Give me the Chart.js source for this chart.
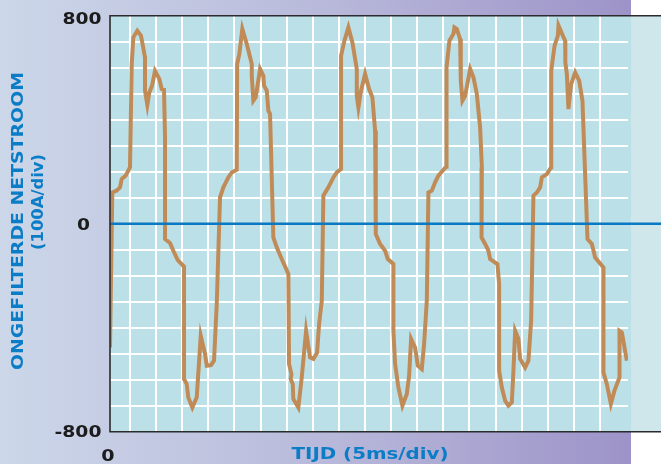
<!DOCTYPE html>
<html>
<head>
<meta charset="utf-8">
<script src="https://cdn.jsdelivr.net/npm/chart.js"></script>
<style>
  html, body { margin: 0; padding: 0; background: #fff; }
</style>
</head>
<body>
<canvas id="scope" width="661" height="464"></canvas>
<script>
// waveform: time in ms, current in A
const timeMs = [0, 0.44, 1.28, 1.92, 2.24, 3.01, 3.83, 4.16, 4.46, 5.23, 5.94, 6.70, 6.70, 7.15, 7.53, 8.05, 8.62, 9.44, 9.90, 10.34, 10.54, 10.54, 11.49, 12.13, 12.97, 14.18, 14.18, 14.69, 15.0, 15.77, 16.61, 17.38, 18.20, 18.53, 19.35, 19.92, 20.44,
  21.07, 21.71, 22.66, 23.31, 24.27, 24.35, 24.77, 25.34, 26.19, 27.15, 27.15, 27.45, 27.91, 28.74, 29.37, 29.50, 30.02, 30.33, 30.65, 31.28, 31.93, 32.89, 34.16, 34.29, 34.75, 34.6, 35.0, 35.11, 36.07, 36.72, 37.55, 38.31, 38.95, 39.66, 40.04, 40.56,
  40.86, 41.82, 42.78, 43.43, 44.25, 44.25, 44.89, 45.65, 46.42, 47.26, 47.26, 47.57, 48.08, 48.85, 49.62, 50.25, 50.77, 50.90, 51.72, 52.68, 53.20, 54.27, 54.27, 54.60, 55.23, 56.0, 56.84, 57.28, 57.66, 58.43, 58.95, 59.71, 60.15, 60.67,
  60.98, 61.63, 62.26, 62.89, 64.37, 64.4, 64.50, 65.0, 65.77, 65.96, 66.42, 67.05, 67.18, 67.49, 68.01, 68.97, 69.60, 70.25, 70.88, 71.21, 71.15, 71.84, 72.47, 72.80, 74.20, 74.52, 74.52, 75.04, 75.67, 76.30, 76.95, 77.26, 77.59, 78.22, 78.54, 79.50, 80.13, 80.65,
  81.09, 81.74, 82.38, 82.70, 83.66, 84.48, 84.5, 85.14, 85.77, 85.89, 86.73, 87.16, 87.2, 87.49, 87.80, 88.31, 89.08, 89.85, 90.48, 91.44, 92.28, 92.91, 94.50, 94.50, 95.15, 95.92, 96.61, 97.57, 97.57, 98.02, 98.98];
const currentA = [-476, 120, 127, 140, 172, 185, 217, 614, 717, 742, 723, 640, 512, 457, 505, 531, 588, 557, 518, 515, 332, -59, -74, -104, -140, -165, -597, -617, -668, -707, -668, -431, -501, -546, -544, -527, -309,
  101, 140, 178, 197, 207, 614, 653, 749, 691, 614, 569, 473, 486, 595, 569, 531, 512, 435, 422, -53, -91, -136, -193, -540, -578, -597, -617, -674, -707, -591, -412, -514, -520, -496, -386, -296,
  108, 140, 178, 197, 210, 646, 704, 755, 697, 595, 492, 447, 512, 576, 518, 486, 358, -40, -78, -104, -136, -155, -412, -540, -630, -700, -655, -585, -443, -476, -546, -559, -463, -296,
  120, 127, 159, 185, 219, 588, 601, 704, 730, 755, 749, 710, 550, 473, 492, 595, 563, 499, 370, 217, -53, -78, -104, -136, -155, -232, -565, -630, -681, -700, -687, -565, -412, -443, -520, -553, -527, -373,
  108, 120, 140, 178, 191, 217, 588, 685, 723, 762, 723, 704, 620, 576, 441, 537, 582, 550, 473, -59, -78, -130, -168, -572, -617, -693, -642, -591, -412, -418, -527];

const yTickLabels = [800, 0, -800];
const xTickLabels = [0];
const yTitle = ['ONGEFILTERDE NETSTROOM', '(100A/div)'];
const xTitle = 'TIJD (5ms/div)';

const msPerDiv = 5;
const firstGridMs = 3.83;
const gridTimes = [];
for (let k = 0; k < 19; k++) gridTimes.push(firstGridMs + k * msPerDiv);

// draw text squeezed/stretched to a given width (the original uses a very wide black font)
function fitText(ctx, txt, cx, cy, w, size, rotate) {
  ctx.save();
  ctx.font = 'bold ' + size + 'px "DejaVu Sans"';
  ctx.translate(cx, cy);
  if (rotate) ctx.rotate(-Math.PI / 2);
  const m = ctx.measureText(txt).width;
  ctx.scale(w / m, 1);
  ctx.textAlign = 'center';
  ctx.textBaseline = 'alphabetic';
  ctx.fillText(txt, 0, size * 0.365);
  ctx.restore();
}

const decor = {
  id: 'decor',
  beforeDraw(chart) {
    const ctx = chart.ctx;
    const { left, top, right, bottom } = chart.chartArea;
    const W = chart.width, H = chart.height;
    ctx.save();
    ctx.fillStyle = '#ffffff';
    ctx.fillRect(0, 0, W, H);
    const g = ctx.createLinearGradient(0, 0, right + 3, 0);
    g.addColorStop(0, '#CCD7E9');
    g.addColorStop(0.5, '#B9BADB');
    g.addColorStop(1, '#9D93C8');
    ctx.fillStyle = g;
    ctx.fillRect(0, 0, right + 3, H);
    ctx.fillStyle = '#CFE6EB';
    ctx.fillRect(right + 3, top, W - right - 3, bottom - top);
    ctx.fillStyle = '#BCE0E8';
    ctx.fillRect(left, top, right + 3 - left, bottom - top);
    ctx.restore();
  },
  afterDatasetsDraw(chart) {
    const ctx = chart.ctx;
    const y0 = chart.scales.y.getPixelForValue(0);
    ctx.save();
    ctx.strokeStyle = '#0A78C2';
    ctx.lineWidth = 2.5;
    ctx.beginPath();
    ctx.moveTo(chart.chartArea.left, y0);
    ctx.lineTo(chart.width, y0);
    ctx.stroke();
    ctx.restore();
  },
  afterDraw(chart) {
    const ctx = chart.ctx;
    const { left, top, bottom } = chart.chartArea;
    const W = chart.width;
    const xs = chart.scales.x, ys = chart.scales.y;
    ctx.save();
    ctx.strokeStyle = '#2b2b2e';
    ctx.lineWidth = 1.6;
    ctx.beginPath();
    ctx.moveTo(W, top); ctx.lineTo(left, top); ctx.lineTo(left, bottom); ctx.lineTo(W, bottom);
    ctx.stroke();

    ctx.fillStyle = '#1c1c1c';
    const tickW = { '800': 39, '0': 13, '-800': 47 };
    yTickLabels.forEach(v => {
      const s = String(v);
      const w = tickW[s];
      const right = v === 0 ? 90 : 101.5;
      let y = ys.getPixelForValue(v);
      if (v === 800) y += 2;
      if (v === -800) y -= 1;
      fitText(ctx, s, right - w / 2, y, w, 16, false);
    });
    xTickLabels.forEach(v => {
      fitText(ctx, String(v), xs.getPixelForValue(v) - 2, bottom + 23.5, 13.3, 16, false);
    });

    ctx.fillStyle = '#0B7CC6';
    fitText(ctx, xTitle, 370, 453.5, 157, 16, false);
    fitText(ctx, yTitle[0], 17.5, 221, 298, 16, true);
    fitText(ctx, yTitle[1], 37, 202, 96, 16, true);
    ctx.restore();
  }
};

new Chart(document.getElementById('scope'), {
  type: 'line',
  data: {
    datasets: [{
      data: timeMs.map((t, i) => ({ x: t, y: currentA[i] })),
      borderColor: '#C08B56',
      borderWidth: 4,
      pointRadius: 0,
      tension: 0,
      fill: false
    }]
  },
  options: {
    responsive: false,
    animation: false,
    events: [],
    layout: { padding: { top: 15.7, right: 33, left: 0, bottom: 0 } },
    plugins: { legend: { display: false }, tooltip: { enabled: false } },
    scales: {
      x: {
        type: 'linear',
        min: 0,
        max: 99.2,
        afterFit: s => { s.height = 32.3; },
        afterBuildTicks: s => { s.ticks = gridTimes.map(v => ({ value: v })); },
        ticks: { display: false },
        grid: { color: '#ffffff', lineWidth: 2, drawTicks: false },
        border: { display: false }
      },
      y: {
        min: -800,
        max: 800,
        afterFit: s => { s.width = 110; },
        ticks: { display: false, stepSize: 100 },
        grid: {
          color: c => (Math.abs(c.tick.value) === 800 || c.tick.value === 0) ? 'rgba(0,0,0,0)' : '#ffffff',
          lineWidth: 2,
          drawTicks: false
        },
        border: { display: false }
      }
    }
  },
  plugins: [decor]
});
</script>
</body>
</html>
